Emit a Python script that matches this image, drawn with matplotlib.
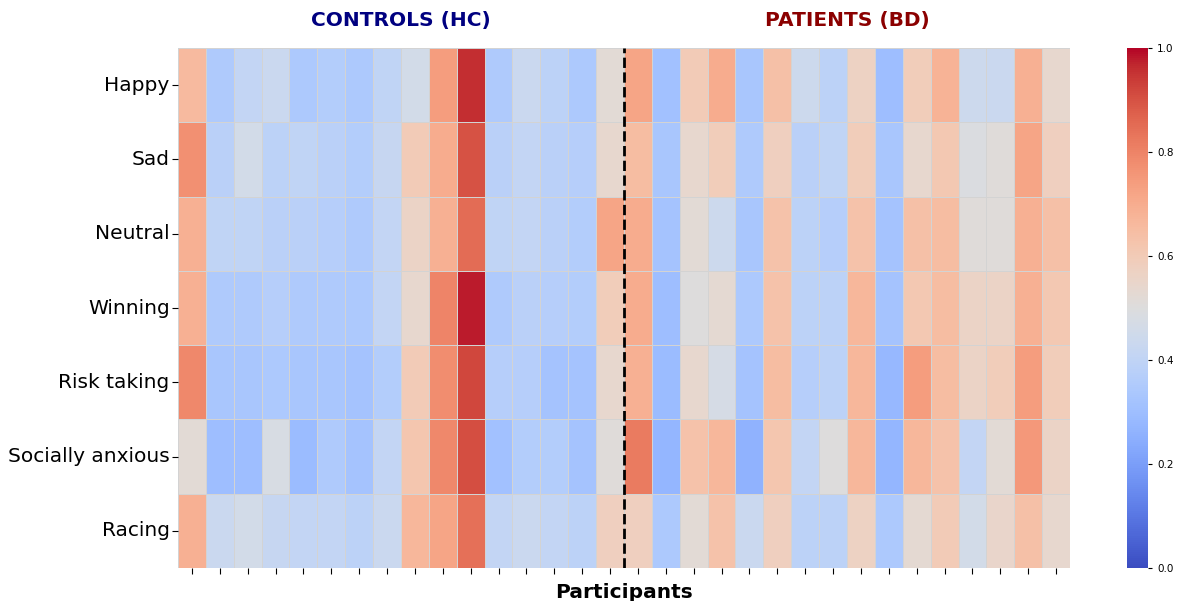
import matplotlib
matplotlib.use("Agg")
import matplotlib.pyplot as plt
import matplotlib.transforms as mtransforms
import numpy as np
import seaborn as sns

emotions = ["Happy", "Sad", "Neutral", "Winning", "Risk taking", "Socially anxious", "Racing"]

hc_happy   = [0.66, 0.35, 0.41, 0.43, 0.34, 0.36, 0.34, 0.40, 0.46, 0.74, 0.96, 0.35, 0.43, 0.39, 0.34, 0.52]
hc_sad     = [0.77, 0.38, 0.46, 0.39, 0.40, 0.38, 0.36, 0.42, 0.60, 0.70, 0.90, 0.38, 0.41, 0.38, 0.37, 0.54]
hc_neutral = [0.69, 0.40, 0.40, 0.38, 0.38, 0.37, 0.35, 0.41, 0.56, 0.69, 0.85, 0.40, 0.41, 0.38, 0.36, 0.72]
hc_winning = [0.69, 0.35, 0.35, 0.37, 0.35, 0.35, 0.34, 0.41, 0.54, 0.80, 0.98, 0.35, 0.38, 0.37, 0.36, 0.59]
hc_risk    = [0.79, 0.33, 0.33, 0.34, 0.33, 0.33, 0.32, 0.36, 0.60, 0.78, 0.92, 0.37, 0.37, 0.32, 0.32, 0.54]
hc_anx     = [0.52, 0.30, 0.30, 0.48, 0.29, 0.35, 0.32, 0.41, 0.62, 0.79, 0.91, 0.31, 0.36, 0.36, 0.32, 0.51]
hc_racing  = [0.69, 0.43, 0.46, 0.42, 0.41, 0.41, 0.39, 0.43, 0.67, 0.72, 0.84, 0.41, 0.43, 0.41, 0.39, 0.58]

bd_happy   = [0.72, 0.31, 0.60, 0.70, 0.33, 0.64, 0.44, 0.39, 0.57, 0.30, 0.59, 0.68, 0.44, 0.43, 0.69, 0.54]
bd_sad     = [0.65, 0.33, 0.54, 0.59, 0.35, 0.58, 0.38, 0.40, 0.59, 0.33, 0.54, 0.61, 0.49, 0.51, 0.72, 0.58]
bd_neutral = [0.70, 0.32, 0.52, 0.44, 0.33, 0.63, 0.39, 0.37, 0.63, 0.32, 0.64, 0.65, 0.51, 0.51, 0.69, 0.64]
bd_winning = [0.70, 0.30, 0.50, 0.53, 0.34, 0.63, 0.39, 0.39, 0.67, 0.32, 0.61, 0.65, 0.56, 0.56, 0.69, 0.61]
bd_risk    = [0.69, 0.29, 0.54, 0.47, 0.32, 0.65, 0.37, 0.39, 0.67, 0.28, 0.74, 0.65, 0.56, 0.59, 0.74, 0.59]
bd_anx     = [0.82, 0.27, 0.63, 0.67, 0.26, 0.62, 0.41, 0.50, 0.67, 0.27, 0.67, 0.63, 0.41, 0.52, 0.75, 0.56]
bd_racing  = [0.58, 0.34, 0.52, 0.63, 0.43, 0.58, 0.39, 0.39, 0.57, 0.34, 0.53, 0.60, 0.46, 0.55, 0.64, 0.54]

hc = [hc_happy, hc_sad, hc_neutral, hc_winning, hc_risk, hc_anx, hc_racing]
bd = [bd_happy, bd_sad, bd_neutral, bd_winning, bd_risk, bd_anx, bd_racing]
data = np.hstack([np.array(hc), np.array(bd)])
n_hc = len(hc_happy)
n_total = data.shape[1]

fig = plt.figure(figsize=(11.77, 6.01), dpi=100)
ax = fig.add_axes([0.1512, 0.0549, 0.7579, 0.8652])
cax = fig.add_axes([0.9575, 0.0549, 0.0178, 0.8652])

sns.heatmap(data, ax=ax, cbar_ax=cax, cmap="coolwarm", vmin=0, vmax=1,
            linewidths=0.5, linecolor="lightgray", yticklabels=emotions,
            xticklabels=[""] * n_total)

ax.set_yticklabels(emotions, fontsize=14.5, rotation=0)
ax.tick_params(axis="y", length=4, width=0.8, pad=2)
ax.tick_params(axis="x", length=4, width=0.8)
ax.axvline(n_hc, color="black", linestyle="--", linewidth=2)
ax.set_xlabel("Participants", fontsize=14.5, fontweight="bold", labelpad=3)

trans = mtransforms.blended_transform_factory(ax.transData, ax.transAxes)
ax.text(n_hc / 2, 1.052, "CONTROLS (HC)", transform=trans, ha="center", va="center",
        fontsize=14.5, fontweight="bold", color="navy")
ax.text(n_hc + (n_total - n_hc) / 2, 1.052, "PATIENTS (BD)", transform=trans, ha="center",
        va="center", fontsize=14.5, fontweight="bold", color="darkred")

cax.tick_params(labelsize=7.5, length=3)
cbar = ax.collections[0].colorbar
cbar.set_ticks([0.0, 0.2, 0.4, 0.6, 0.8, 1.0])
cbar.outline.set_visible(False)

fig.savefig("out.png", dpi=100)
